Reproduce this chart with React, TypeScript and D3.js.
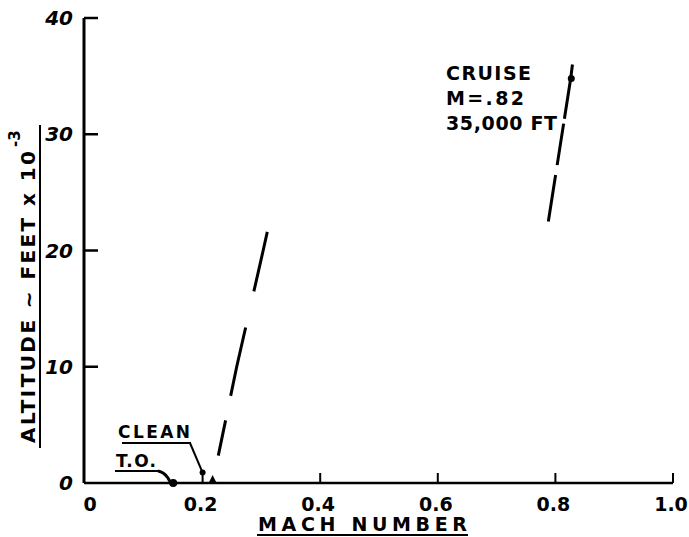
import React from 'react';
import * as d3 from 'd3';

// Climb schedule (Mach vs altitude in thousands of feet)
const climbMach = [0.217, 0.258, 0.303, 0.31];
const climbAlt = [0, 10, 20, 21.6];

// Cruise approach segment
const cruiseMach = [0.788, 0.826, 0.829];
const cruiseAlt = [22.5, 34.8, 36];

// Marked points
const takeoffPoint = { mach: 0.15, alt: 0 };
const cleanPoint = { mach: 0.2, alt: 0.9 };
const cruisePoint = { mach: 0.827, alt: 34.8 };

const xTicks = [0, 0.2, 0.4, 0.6, 0.8, 1.0];
const xTickLabels = ['0', '0.2', '0.4', '0.6', '0.8', '1.0'];
const yTicks = [0, 10, 20, 30, 40];
const yTickLabels = ['0', '10', '20', '30', '40'];

const cruiseLabel = ['CRUISE', 'M=.82', '35,000 FT'];
const cruiseLabelWidths = [85, 78, 111];

const W = 689;
const H = 537;
const FONT = "'DejaVu Sans', sans-serif";

const App: React.FC = () => {
  const x = d3.scaleLinear().domain([0, 1]).range([85, 673]);
  const y = d3.scaleLinear().domain([0, 40]).range([483, 18]);

  const line = d3.line<[number, number]>()
    .x(d => x(d[0]))
    .y(d => y(d[1]));

  const climb = climbMach.map((m, i) => [m, climbAlt[i]] as [number, number]);
  const cruise = cruiseMach.map((m, i) => [m, cruiseAlt[i]] as [number, number]);

  const x0 = 84;
  const y0 = y(0);
  const cx0 = x(climbMach[0]);

  return (
    <svg width={W} height={H} style={{ position: 'absolute', left: 0, top: 0, background: '#fff' }}>
      {/* axes */}
      <line x1={x0} y1={y(40)} x2={x0} y2={y0} stroke="#000" strokeWidth={3} />
      <line x1={x0} y1={y0} x2={x(1)} y2={y0} stroke="#000" strokeWidth={2.5} />
      {yTicks.slice(1).map(t => (
        <line key={t} x1={x0} x2={x0 + 14} y1={y(t)} y2={y(t)} stroke="#000" strokeWidth={2.5} />
      ))}
      {xTicks.slice(1).map(t => (
        <line key={t} x1={x(t)} x2={x(t)} y1={y0} y2={y0 - 10} stroke="#000" strokeWidth={2} />
      ))}

      {/* tick labels */}
      {yTicks.map((t, i) => (
        <text key={t} x={73} y={y(t) + 7} textAnchor="end" fontFamily={FONT} fontSize={20}
          fontWeight="bold" fontStyle="italic">{yTickLabels[i]}</text>
      ))}
      {xTicks.map((t, i) => (
        <text key={t} x={i === 0 ? x(t) + 5 : x(t) - 2} y={y0 + 28} textAnchor="middle" fontFamily={FONT}
          fontSize={19} fontWeight="bold">{xTickLabels[i]}</text>
      ))}

      {/* axis titles */}
      <text x={258} y={531} fontFamily={FONT} fontSize={19} fontWeight="bold"
        textLength={209} lengthAdjust="spacing">MACH NUMBER</text>
      <line x1={257} x2={468} y1={535} y2={535} stroke="#000" strokeWidth={2} />

      <g transform="translate(35,443) rotate(-90)">
        <text x={0} y={0} fontFamily={FONT} fontSize={20} fontWeight="bold"
          textLength={292} lengthAdjust="spacing">ALTITUDE ~ FEET x 10</text>
        <text x={296} y={-15} fontFamily={FONT} fontSize={15} fontWeight="bold">-3</text>
      </g>
      <line x1={40} x2={40} y1={125} y2={448} stroke="#000" strokeWidth={2} />

      {/* climb line */}
      <path d={line(climb) ?? ''} fill="none" stroke="#000" strokeWidth={3}
        strokeDasharray="0 28 36 25 70 37 62 100" />
      <path d={`M${cx0 - 4},${y0} L${cx0},${y0 - 8} L${cx0 + 4},${y0} Z`} fill="#000" />

      {/* cruise line */}
      <path d={line(cruise) ?? ''} fill="none" stroke="#000" strokeWidth={3}
        strokeDasharray="47 10 42 5 80" />
      <circle cx={x(cruisePoint.mach)} cy={y(cruisePoint.alt)} r={3.5} fill="#000" />

      {/* take-off */}
      <circle cx={x(takeoffPoint.mach)} cy={y(takeoffPoint.alt)} r={4} fill="#000" />
      <text x={116} y={467} fontFamily={FONT} fontSize={17} fontWeight="bold"
        textLength={40} lengthAdjust="spacing">T.O.</text>
      <line x1={115} x2={160} y1={471} y2={471} stroke="#000" strokeWidth={2} />
      <path d={`M158,471 Q164,472 168,478 L${x(takeoffPoint.mach) - 3},${y0 - 1}`} fill="none" stroke="#000" strokeWidth={3} />

      {/* clean */}
      <text x={118} y={438} fontFamily={FONT} fontSize={17} fontWeight="bold"
        textLength={72} lengthAdjust="spacing">CLEAN</text>
      <line x1={122} x2={191} y1={443} y2={443} stroke="#000" strokeWidth={2} />
      <line x1={190} y1={443} x2={x(cleanPoint.mach)} y2={y(cleanPoint.alt)} stroke="#000" strokeWidth={2} />
      <circle cx={x(cleanPoint.mach)} cy={y(cleanPoint.alt)} r={3} fill="#000" />

      {/* cruise annotation */}
      {cruiseLabel.map((s, i) => (
        <text key={s} x={446} y={80 + i * 25} fontFamily={FONT} fontSize={19} fontWeight="bold"
          textLength={cruiseLabelWidths[i]} lengthAdjust="spacing">{s}</text>
      ))}
    </svg>
  );
};

export default App;
